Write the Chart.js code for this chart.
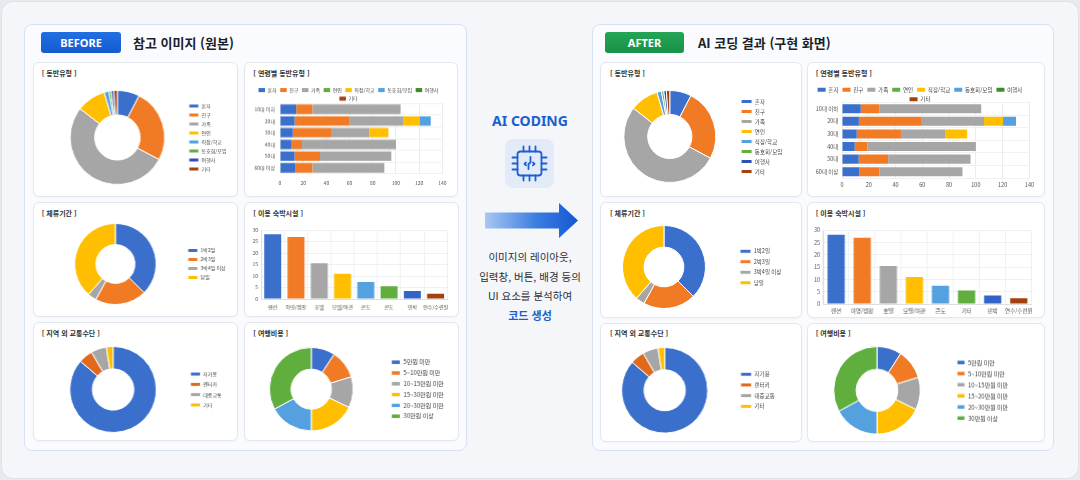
<!DOCTYPE html>
<html lang="ko">
<head>
<meta charset="UTF-8">
<title>BEFORE / AFTER</title>
<script src="https://cdn.jsdelivr.net/npm/chart.js"></script>
<style>
  body { margin:0; width:1080px; height:480px; background:#e7e9ed; position:relative; overflow:hidden;
         font-family:'Noto Sans CJK KR','Noto Sans',sans-serif; }
  .frame { position:absolute; left:1px; top:1px; width:1076px; height:476px; background:#f5f6f9;
           border:1px solid #dfe2e8; border-radius:12px; }
  .panel { position:absolute; background:#fafbfe; border:1.5px solid #d6e1f2; border-radius:8px; box-sizing:border-box; }
  .card { position:absolute; background:#fff; border:1px solid #e4e7ec; border-radius:6px; box-sizing:border-box;
          box-shadow:0 1px 2px rgba(30,40,60,0.04); }
  .badge { position:absolute; height:21px; line-height:21px; border-radius:3px; color:#fff; font-weight:700;
           font-size:11px; text-align:center; font-family:'Noto Sans','Open Sans',sans-serif; }
  .head { position:absolute; font-size:13px; font-weight:700; color:#1b1f2a; line-height:18px; }
  .ctitle { position:absolute; font-size:7px; font-weight:700; color:#333; line-height:9px; white-space:nowrap; }
  .mid { position:absolute; left:470px; width:120px; text-align:center; }
</style>
</head>
<body>
<div class="frame"></div>

<div class="panel" style="left:24px;top:24px;width:443px;height:427px;"></div>
<div class="panel" style="left:592px;top:24px;width:462px;height:427px;"></div>

<div class="badge" style="left:41px;top:32px;width:80px;background:linear-gradient(#2170e2,#155ad0);">BEFORE</div>
<div class="head" style="left:133px;top:34px;">참고 이미지 (원본)</div>
<div class="badge" style="left:605px;top:32px;width:79px;background:linear-gradient(#24a553,#19914a);">AFTER</div>
<div class="head" style="left:698px;top:34px;">AI 코딩 결과 (구현 화면)</div>

<!-- cards, before -->
<div class="card" style="left:33px;top:62px;width:205px;height:135px;"></div>
<div class="card" style="left:244px;top:62px;width:214px;height:135px;"></div>
<div class="card" style="left:33px;top:202px;width:205px;height:115px;"></div>
<div class="card" style="left:244px;top:202px;width:215px;height:115px;"></div>
<div class="card" style="left:33px;top:322px;width:205px;height:119px;"></div>
<div class="card" style="left:244px;top:322px;width:215px;height:119px;"></div>
<!-- cards, after -->
<div class="card" style="left:600px;top:62px;width:202px;height:135px;"></div>
<div class="card" style="left:807px;top:62px;width:238px;height:135px;"></div>
<div class="card" style="left:600px;top:202px;width:202px;height:116px;"></div>
<div class="card" style="left:807px;top:202px;width:238px;height:116px;"></div>
<div class="card" style="left:600px;top:323px;width:202px;height:119px;"></div>
<div class="card" style="left:807px;top:323px;width:238px;height:119px;"></div>

<div class="ctitle" style="left:41.7px;top:68.5px;">[ 동반유형 ]</div>
<div class="ctitle" style="left:253.3px;top:68.5px;">[ 연령별 동반유형 ]</div>
<div class="ctitle" style="left:41.7px;top:208.5px;">[ 체류기간 ]</div>
<div class="ctitle" style="left:253.3px;top:208.5px;">[ 이용 숙박시설 ]</div>
<div class="ctitle" style="left:41.7px;top:328.8px;">[ 지역 외 교통수단 ]</div>
<div class="ctitle" style="left:253.3px;top:328.8px;">[ 여행비용 ]</div>

<div class="ctitle" style="left:610px;top:68.5px;">[ 동반유형 ]</div>
<div class="ctitle" style="left:815.7px;top:68.5px;">[ 연령별 동반유형 ]</div>
<div class="ctitle" style="left:610px;top:208.5px;">[ 체류기간 ]</div>
<div class="ctitle" style="left:815.7px;top:208.5px;">[ 이용 숙박시설 ]</div>
<div class="ctitle" style="left:610px;top:328.8px;">[ 지역 외 교통수단 ]</div>
<div class="ctitle" style="left:815.7px;top:328.8px;">[ 여행비용 ]</div>

<!-- middle column -->
<div class="mid" style="top:112px;font-size:14px;font-weight:700;color:#1a5fd0;line-height:18px;font-family:'Noto Sans','Open Sans',sans-serif;">AI CODING</div>
<svg style="position:absolute;left:505px;top:139px;" width="49" height="49" viewBox="0 0 49 49">
  <rect x="0" y="0" width="49" height="49" rx="8" fill="#e3ebf9"/>
  <g stroke="#1f5fd1" stroke-width="1.8" fill="none" stroke-linecap="round" stroke-linejoin="round">
    <rect x="12.5" y="12.5" width="24" height="24" rx="3"/>
    <path d="M18.5 7.5v5M24.5 7.5v5M30.5 7.5v5M18.5 36.5v5M24.5 36.5v5M30.5 36.5v5"/>
    <path d="M7.5 18.5h5M7.5 24.5h5M7.5 30.5h5M36.5 18.5h5M36.5 24.5h5M36.5 30.5h5"/>
    <path d="M25.5 18v5.5l-2 1.5v5"/>
    <path d="M21 23.5l-1.6 1.4 1.6 1.4M28 23.5l1.6 1.4-1.6 1.4"/>
  </g>
</svg>
<svg style="position:absolute;left:484px;top:202px;" width="96" height="37" viewBox="0 0 96 37">
  <defs>
    <linearGradient id="ag" x1="0" x2="1" y1="0" y2="0">
      <stop offset="0" stop-color="#a9c7f3"/>
      <stop offset="0.55" stop-color="#3b7ee0"/>
      <stop offset="1" stop-color="#1457d3"/>
    </linearGradient>
  </defs>
  <path d="M1 10.5H75V1L94 18.5L75 36V26.5H1Z" fill="url(#ag)"/>
</svg>
<div class="mid" style="top:247px;font-size:10.5px;line-height:19.5px;color:#2b2f38;">
  이미지의 레이아웃,<br>입력창, 버튼, 배경 등의<br>UI 요소를 분석하여<br>
  <span style="color:#1a5fd0;font-weight:700;font-size:11px;">코드 생성</span>
</div>

<script>
// ---- data ----
const companionLabels = ['혼자', '친구', '가족', '연인', '직장/학교', '동호회/모임', '여행사', '기타'];
const companionValues = [7.6, 25.2, 52.7, 10.0, 1.6, 0.8, 0.9, 1.2];

const ageLabels = ['10대 이하', '20대', '30대', '40대', '50대', '60대 이상'];
const ageAlone  = [14, 12.6, 11, 9.5, 12.5, 13];
const ageFriend = [14, 47, 33, 9.5, 22, 15];
const ageFamily = [76, 46.5, 33, 81, 61.5, 62];
const ageCouple = [0, 0, 0, 0, 0, 0];
const ageWork   = [0, 14.2, 16.5, 0, 0, 0];
const ageClub   = [0, 9.7, 0, 0, 0, 0];
const ageAgency = [0, 0, 0, 0, 0, 0];
const ageEtc    = [0, 0, 0, 0, 0, 0];
const ageMax = 140;
const ageStep = 20;

const stayLabels = ['1박2일', '2박3일', '3박4일 이상', '당일'];
const stayValues = [37.5, 20.5, 3.5, 38.5];

const lodgingLabels       = ['펜션', '야영/캠핑', '호텔', '모텔/여관', '콘도', '기타', '민박', '연수/수련원'];
const lodgingLabelsBefore = ['펜션', '야영/캠핑', '호텔', '모텔/여관', '콘도', '콘도', '민박', '연수/수련원'];
const lodgingValues = [28.2, 27, 15.5, 11, 7.4, 5.5, 3.5, 2.3];
const lodgingMax = 30;
const lodgingStep = 5;

const transportLabels = ['자가용', '렌터카', '대중교통', '기타'];
const transportValues = [86.4, 5.3, 5.8, 2.5];

const costLabels       = ['5만원 미만', '5~10만원 미만', '10~15만원 미만', '15~20만원 미만', '20~30만원 미만', '30만원 이상'];
const costLabelsBefore = ['5만원 미만', '5~10만원 미만', '10~15만원 미만', '15~30만원 미만', '20~30만원 미만', '30만원 이상'];
const costValues = [9.2, 11, 12, 17.8, 17.1, 32.9];

// ---- styles ----
const FONT = "'Noto Sans CJK KR', 'Noto Sans', sans-serif";
const C = {
  blue: '#3a6fcb', orange: '#f07b24', gray: '#a6a6a6', yellow: '#ffbf00', sky: '#55a0de',
  green: '#5fae3e', navy: '#2f4fb6', brown: '#a3420e', rust: '#e0691c', lgray: '#d3d3d3'
};
Chart.defaults.font.family = FONT;
Chart.defaults.color = '#555';
Chart.defaults.animation = false;
Chart.defaults.plugins.tooltip.enabled = false;

const measure = document.createElement('canvas').getContext('2d');
function textWidth(str, size) {
  measure.font = size + 'px ' + FONT;
  return measure.measureText(str).width;
}

// absolutely placed wrapper + canvas
function place(x, y, w, h) {
  const wrap = document.createElement('div');
  wrap.style.cssText = 'position:absolute;left:' + x + 'px;top:' + y + 'px;width:' + w + 'px;height:' + h + 'px;';
  const cv = document.createElement('canvas');
  wrap.appendChild(cv);
  document.body.appendChild(wrap);
  return cv;
}

// doughnut with a right legend; canvas is sized so the ring lands at (cx, cy) with radius r
function donut(o) {
  const bw = o.boxW;
  const item = bw + o.font / 2 + Math.max(...o.labels.map(t => textWidth(t, o.font)));
  const pad = o.pitch - o.font;
  const legendLeft = o.boxX - pad;
  const right = o.boxX + item + 10;
  const left = 2 * o.cx - legendLeft;
  const cv = place(left, o.cy - o.r - 0.5, right - left, 2 * o.r + 1);
  new Chart(cv, {
    type: 'doughnut',
    data: {
      labels: o.labels,
      datasets: [{ data: o.values, backgroundColor: o.colors, borderColor: '#fff', borderWidth: 1 }]
    },
    options: {
      responsive: true,
      maintainAspectRatio: false,
      cutout: '48%',
      plugins: {
        legend: {
          position: 'right',
          labels: { boxWidth: bw, boxHeight: o.boxH || 4, padding: pad, font: { size: o.font }, color: '#444' }
        }
      }
    }
  });
}

// horizontal stacked bars by age
function ageChart(o) {
  const legendTop = o.row1 - o.font / 2 - o.pad;
  const left = o.x0 - o.yW;
  const right = o.x1 + 6;
  const cv = place(left, legendTop, right - left, o.bandBottom + o.xH - legendTop);
  const series = [ageAlone, ageFriend, ageFamily, ageCouple, ageWork, ageClub, ageAgency, ageEtc];
  const colors = [C.blue, C.orange, C.gray, C.green, C.yellow, C.sky, '#3d8c2c', C.brown];
  new Chart(cv, {
    type: 'bar',
    data: {
      labels: ageLabels,
      datasets: series.map((d, i) => ({
        label: companionLabels[i], data: d, backgroundColor: colors[i],
        barPercentage: o.barPct, categoryPercentage: 1
      }))
    },
    options: {
      indexAxis: 'y',
      responsive: true,
      maintainAspectRatio: false,
      layout: { padding: { right: 6 } },
      plugins: {
        legend: {
          position: 'top',
          maxHeight: o.bandTop - legendTop,
          labels: { boxWidth: o.boxW, boxHeight: 4, padding: o.pad, font: { size: o.font }, color: '#444' }
        }
      },
      scales: {
        x: {
          stacked: true, min: 0, max: ageMax,
          ticks: { stepSize: ageStep, font: { size: o.font }, padding: o.xPad, color: '#555' },
          grid: { color: '#ececef', drawTicks: false },
          border: { display: false },
          afterFit: s => { s.height = o.xH; }
        },
        y: {
          stacked: true,
          ticks: { font: { size: o.font }, padding: o.yPad, color: '#555' },
          grid: { color: '#f1f1f4', drawTicks: false },
          border: { display: false },
          afterFit: s => { s.width = o.yW; }
        }
      }
    }
  });
}

// vertical bars for lodging
function lodgingChart(o) {
  const left = o.areaL - o.yW;
  const cv = place(left, o.y30 - 4, o.areaR + 4 - left, o.y0 + o.xH - (o.y30 - 4));
  new Chart(cv, {
    type: 'bar',
    data: {
      labels: o.labels,
      datasets: [{
        data: lodgingValues,
        backgroundColor: [C.blue, C.orange, C.gray, C.yellow, C.sky, C.green, '#3463c8', C.brown],
        barPercentage: o.barPct, categoryPercentage: 1
      }]
    },
    options: {
      responsive: true,
      maintainAspectRatio: false,
      layout: { padding: { top: 4, right: 4 } },
      plugins: { legend: { display: false } },
      scales: {
        y: {
          min: 0, max: lodgingMax,
          ticks: { stepSize: lodgingStep, font: { size: o.font }, padding: 3, color: '#555' },
          grid: { color: '#eef0f3', drawTicks: false },
          border: { color: '#dedede' },
          afterFit: s => { s.width = o.yW; }
        },
        x: {
          ticks: { font: { size: o.font }, padding: o.xPad, color: '#555', maxRotation: 0, autoSkip: false },
          grid: { color: '#eef0f3', drawTicks: false },
          border: { color: '#dedede' },
          afterFit: s => { s.height = o.xH; }
        }
      }
    }
  });
}

const companionColors = [C.blue, C.orange, C.gray, C.yellow, C.sky, C.green, C.navy, C.brown];
const stayColors = [C.blue, C.orange, C.gray, C.yellow];
const transportColors = [C.blue, C.rust, C.gray, C.yellow];
const costColors = [C.blue, C.orange, C.gray, C.yellow, C.sky, C.green];

// ---- BEFORE ----
donut({ cx: 117, cy: 137, r: 47, boxX: 188, font: 5, pitch: 9, boxW: 10,
        labels: companionLabels, values: companionValues, colors: companionColors });
ageChart({ x0: 280, x1: 447, bandTop: 103.2, bandBottom: 172.8, row1: 90, font: 5, pad: 3.5, boxW: 6.5,
           yW: 30, yPad: 5, xH: 12, xPad: 6.5, barPct: 0.8 });
donut({ cx: 115, cy: 264, r: 40.5, boxX: 187, font: 5, pitch: 9, boxW: 10,
        labels: stayLabels, values: stayValues, colors: stayColors });
lodgingChart({ areaL: 261.3, areaR: 448.7, y30: 228, y0: 299, yW: 16, xH: 13, xPad: 5, font: 5,
               barPct: 0.73, labels: lodgingLabelsBefore });
donut({ cx: 113, cy: 389, r: 43, boxX: 190, font: 5, pitch: 10.3, boxW: 10,
        labels: transportLabels, values: transportValues, colors: transportColors });
donut({ cx: 311, cy: 389, r: 41.7, boxX: 390.7, font: 6, pitch: 10.8, boxW: 9, boxH: 4.5,
        labels: costLabelsBefore, values: costValues, colors: costColors });

// ---- AFTER ----
donut({ cx: 669.7, cy: 136, r: 46, boxX: 741, font: 5.5, pitch: 10, boxW: 11,
        labels: companionLabels, values: companionValues, colors: companionColors });
ageChart({ x0: 841.7, x1: 1031.7, bandTop: 102.7, bandBottom: 178.3, row1: 90, font: 5.5, pad: 4, boxW: 8,
           yW: 34, yPad: 3.7, xH: 11, xPad: 4, barPct: 0.72 });
donut({ cx: 664, cy: 266.7, r: 41.5, boxX: 740, font: 5.5, pitch: 10.5, boxW: 11,
        labels: stayLabels, values: stayValues, colors: stayColors });
lodgingChart({ areaL: 823, areaR: 1031.8, y30: 228, y0: 304, yW: 16, xH: 13, xPad: 4, font: 5.5,
               barPct: 0.66, labels: lodgingLabels });
donut({ cx: 664.5, cy: 390, r: 42.8, boxX: 740, font: 5.5, pitch: 10.7, boxW: 11,
        labels: transportLabels, values: transportValues, colors: transportColors });
donut({ cx: 876.7, cy: 390, r: 43.3, boxX: 956.7, font: 6, pitch: 11, boxW: 8, boxH: 4.5,
        labels: costLabels, values: costValues, colors: costColors });
</script>
</body>
</html>
